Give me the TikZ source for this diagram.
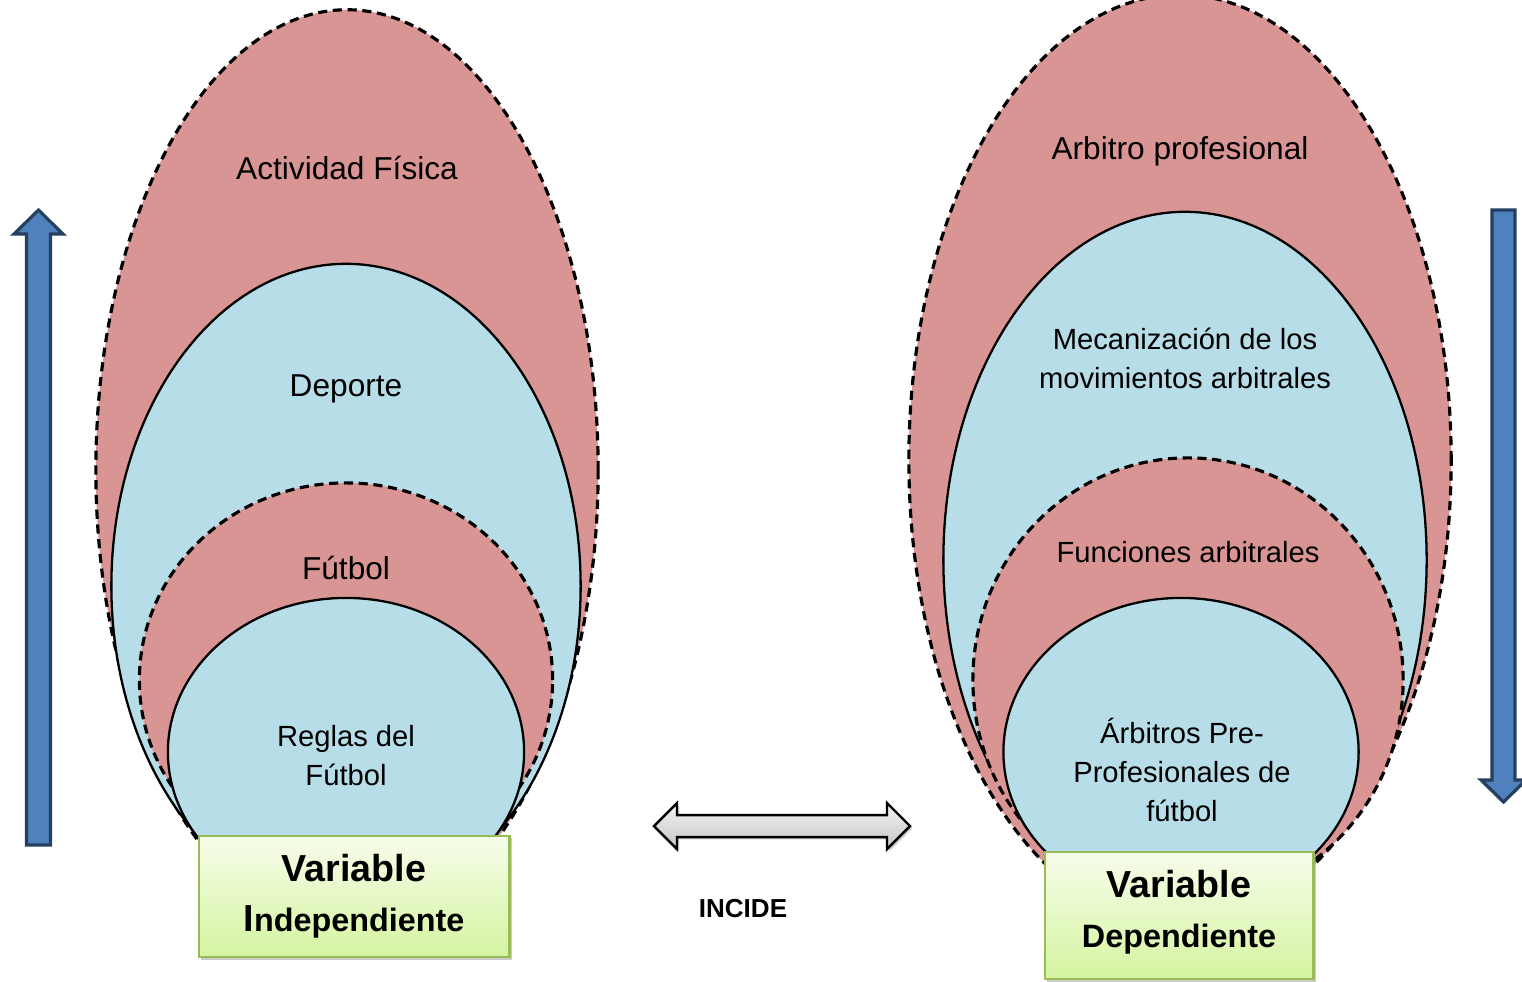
\documentclass[tikz,border=0pt]{standalone}
\usepackage{fontspec}
\setmainfont{Liberation Sans}
\usetikzlibrary{shapes.geometric,shadows}
\definecolor{pinkfill}{HTML}{D99594}
\definecolor{bluefill}{HTML}{B7DDE8}
\definecolor{boxline}{HTML}{9BBB59}
\definecolor{boxtop}{HTML}{F6FDEA}
\definecolor{boxbot}{HTML}{D5F4A0}
\definecolor{arrowfill}{HTML}{4F81BD}
\definecolor{arrowline}{HTML}{243F60}
\tikzset{
  outer/.style={ellipse, draw, dash pattern=on 2.6pt off 1.6pt, fill=pinkfill, line width=0.9pt, inner sep=0pt},
  inner/.style={ellipse, draw, fill=bluefill, line width=0.65pt, inner sep=0pt},
  bigtext/.style={font=\fontsize{9}{11}\selectfont, align=center},
  smalltext/.style={font=\fontsize{8.3}{11.1}\selectfont, align=center},
  varbox/.style={draw=boxline, line width=0.8pt, top color=boxtop, bottom color=boxbot,
    drop shadow={shadow xshift=0.7pt, shadow yshift=-0.7pt, fill=black!40},
    align=center, font=\fontsize{10.7}{14.2}\selectfont\bfseries},
  blockarrow/.style={fill=arrowfill, draw=arrowline, line width=0.9pt, line join=miter}
}
\newcommand{\subline}[1]{{\fontsize{9.2}{14.2}\selectfont #1}}
\begin{document}
\begin{tikzpicture}[x=0.01cm, y=-0.01cm]
      \useasboundingbox (0,0) rectangle (1522,981);
      \clip (0,0) rectangle (1522,981);
      \node[outer, minimum width=5.02cm, minimum height=9.2cm] (fisica) at (347,470) {};
      \node[inner, minimum width=4.69cm, minimum height=6.44cm] (deporte) at (346,586) {};
      \node[outer, minimum width=4.13cm, minimum height=3.94cm] (futbol) at (346,680) {};
      \node[inner, minimum width=3.56cm, minimum height=3.08cm] (reglas) at (346,752) {};
      \node[outer, minimum width=5.42cm, minimum height=9.3cm] (arbitro) at (1180,460) {};
      \node[inner, minimum width=4.83cm, minimum height=6.96cm] (mecan) at (1185,560) {};
      \node[outer, minimum width=4.3cm, minimum height=4.44cm] (funciones) at (1188,680) {};
      \node[inner, minimum width=3.55cm, minimum height=3.08cm] (preprof) at (1181,752) {};
      \node[bigtext] (tfisica) at (347,168) {Actividad Física};
      \node[bigtext] (tdeporte) at (346,389) {Deporte};
      \node[bigtext] (tfutbol) at (346,568) {Fútbol};
      \node[smalltext] (treglas) at (346,756) {Reglas del\\Fútbol};
      \node[bigtext] (tarbitro) at (1180,151) {Arbitro profesional};
      \node[smalltext] (tmecan) at (1185,358) {Mecanización de los\\movimientos arbitrales};
      \node[smalltext] (tfunciones) at (1188,552) {Funciones arbitrales};
      \node[smalltext] (tpreprof) at (1182,770) {Árbitros Pre-\\Profesionales de\\fútbol};
      \node[varbox, minimum width=3.1cm, minimum height=1.21cm] (indep) at (354,896.5) {Variable\\I\subline{ndependiente}};
      \node[varbox, minimum width=2.68cm, minimum height=1.27cm, text depth=4pt] (dep) at (1179,915.5) {Variable\\\subline{Dependiente}};
      \draw[blockarrow] (26.5,845) -- (26.5,234) -- (14,234) -- (38.5,210) -- (63,234) -- (50.5,234) -- (50.5,845) -- cycle;
      \draw[blockarrow] (1492,210) -- (1492,780) -- (1481,780) -- (1503.5,802) -- (1526,780) -- (1515,780) -- (1515,210) -- cycle;
      \draw[line width=0.7pt, line join=miter, top color=gray!10, bottom color=gray!45,
        drop shadow={shadow xshift=0.7pt, shadow yshift=-0.7pt, fill=black!35}]
        (654,826) -- (677,803) -- (677,815) -- (887,815) -- (887,803) -- (910,826)
        -- (887,849) -- (887,837) -- (677,837) -- (677,849) -- cycle;
      \node[font=\fontsize{7.4}{9}\selectfont\bfseries] (incide) at (743,909) {INCIDE};
\end{tikzpicture}
\end{document}
